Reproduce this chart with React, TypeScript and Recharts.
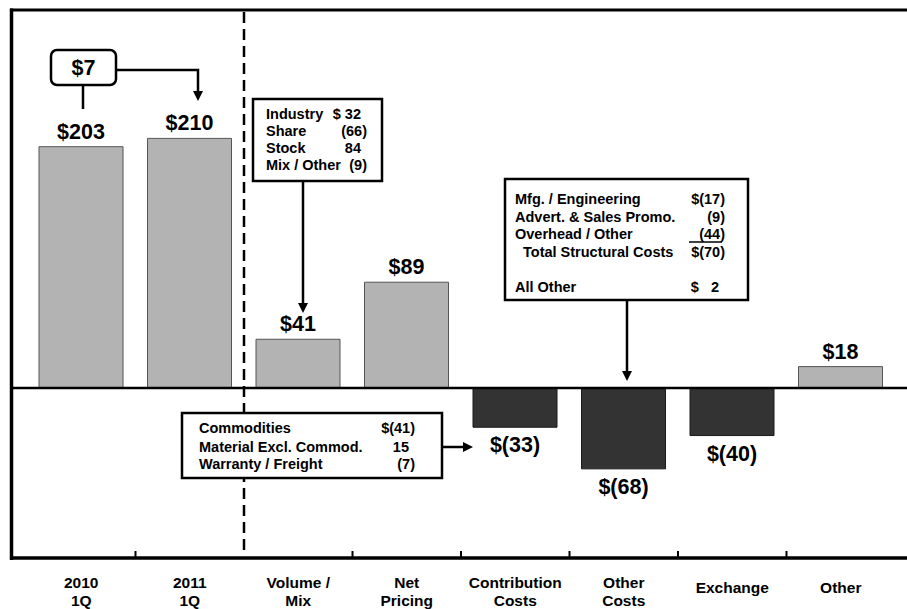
import { BarChart, Bar, XAxis, YAxis, Cell, LabelList } from 'recharts'

const categories = ['2010\n1Q', '2011\n1Q', 'Volume /\nMix', 'Net\nPricing', 'Contribution\nCosts', 'Other\nCosts', 'Exchange', 'Other']
const values = [203, 210, 41, 89, -33, -68, -40, 18]
const yDomain = [-143, 318]

const bridgeNote = '$7'
const volumeLines = [['Industry', '$ 32'], ['Share', '(66)'], ['Stock', '84'], ['Mix / Other', '(9)']]
const structuralLines = [['Mfg. / Engineering', '$(17)'], ['Advert. & Sales Promo.', '(9)'], ['Overhead / Other', '(44)'], ['Total Structural Costs', '$(70)'], ['All Other', '$   2']]
const contributionLines = [['Commodities', '$(41)'], ['Material Excl. Commod.', '15'], ['Warranty / Freight', '(7)']]

const W = 907
const H = 609
const PLOT = { left: 27, right: 895, top: 10, bottom: 558 }
const FONT = '"Liberation Sans", Arial, Helvetica, sans-serif'

const data = categories.map((name, i) => ({ name, value: values[i] }))

const fmt = (v: number) => (v < 0 ? `$(${-v})` : `$${v}`)

// eslint-disable-next-line @typescript-eslint/no-explicit-any
function CategoryTick({ x, y, payload }: any) {
  const lines = String(payload.value).split('\n')
  const first = lines.length > 1 ? 30 : 35
  return (
    <text x={x} y={y} textAnchor="middle" fontFamily={FONT} fontWeight={700} fontSize={15.5} fill="#000">
      {lines.map((l, i) => (
        <tspan key={i} x={x} y={y + first + i * 18}>{l}</tspan>
      ))}
    </text>
  )
}

// eslint-disable-next-line @typescript-eslint/no-explicit-any
function ValueLabel(props: any) {
  const { x, y, width, height, value } = props
  const top = Math.min(y, y + height)
  const bottom = Math.max(y, y + height)
  const ty = value < 0 ? bottom + 25 : top - 8
  return (
    <text x={x + width / 2} y={ty} textAnchor="middle" fontFamily={FONT} fontWeight={700} fontSize={21.5} fill="#000">
      {fmt(value)}
    </text>
  )
}

function ArrowDown({ x, y }: { x: number; y: number }) {
  return <polygon points={`${x - 5},${y - 10} ${x + 5},${y - 10} ${x},${y}`} fill="#000" />
}

function ArrowRight({ x, y }: { x: number; y: number }) {
  return <polygon points={`${x - 10},${y - 5} ${x - 10},${y + 5} ${x},${y}`} fill="#000" />
}

function NoteRows({ rows, x, valueX, y0, step, indent }: {
  rows: string[][]; x: number; valueX: number; y0: number; step: number[] | number; indent?: number
}) {
  return (
    <g fontFamily={FONT} fontWeight={700} fontSize={14.5} fill="#000">
      {rows.map(([label, val], i) => {
        const y = Array.isArray(step) ? step[i] : y0 + i * step
        const lx = indent !== undefined && label.startsWith('Total') ? x + indent : x
        return (
          <g key={i}>
            <text x={lx} y={y}>{label}</text>
            <text x={val.endsWith(')') ? valueX : valueX - 6} y={y} textAnchor="end">
              {val.replace(/ /g, '\u00A0')}
            </text>
          </g>
        )
      })}
    </g>
  )
}

function Annotations() {
  const band = (PLOT.right - PLOT.left) / categories.length
  const zeroY = PLOT.top + (yDomain[1] / (yDomain[1] - yDomain[0])) * (PLOT.bottom - PLOT.top)
  const dividerX = PLOT.left + band * 2
  const ticks = categories.slice(1).map((_, i) => PLOT.left + band * (i + 1)).filter((_, i) => i !== 1)

  return (
    <svg width={W} height={H} style={{ position: 'absolute', left: 0, top: 0 }}>
      {/* frame */}
      <line x1={10} y1={10} x2={W} y2={10} stroke="#000" strokeWidth={3} />
      <line x1={11.5} y1={8.5} x2={11.5} y2={PLOT.bottom + 2} stroke="#000" strokeWidth={3.5} />
      <line x1={10} y1={PLOT.bottom} x2={W} y2={PLOT.bottom} stroke="#000" strokeWidth={3.5} />
      <line x1={11} y1={zeroY} x2={W} y2={zeroY} stroke="#000" strokeWidth={2.5} />
      {ticks.map((t, i) => (
        <line key={i} x1={t} y1={PLOT.bottom - 7} x2={t} y2={PLOT.bottom} stroke="#000" strokeWidth={2} />
      ))}
      <line x1={dividerX} y1={12} x2={dividerX} y2={PLOT.bottom - 2} stroke="#000" strokeWidth={2.5} strokeDasharray="11 6" />

      {/* $7 bridge */}
      <rect x={51} y={50} width={65} height={35} rx={6} fill="#fff" stroke="#000" strokeWidth={2.5} />
      <text x={83.5} y={75} textAnchor="middle" fontFamily={FONT} fontWeight={700} fontSize={21.5}>{bridgeNote}</text>
      <line x1={83} y1={85} x2={83} y2={109} stroke="#000" strokeWidth={2.5} />
      <polyline points="116,70 198,70 198,92" fill="none" stroke="#000" strokeWidth={2.5} />
      <ArrowDown x={198} y={101} />

      {/* volume / mix note */}
      <rect x={253} y={99} width={129} height={82} fill="#fff" stroke="#000" strokeWidth={2.5} />
      <NoteRows rows={volumeLines} x={266} valueX={367} y0={119} step={17} />
      <line x1={303} y1={181} x2={303} y2={305} stroke="#000" strokeWidth={2.5} />
      <ArrowDown x={303} y={313} />

      {/* structural costs note */}
      <rect x={505} y={179} width={243} height={121} fill="#fff" stroke="#000" strokeWidth={2.5} />
      <NoteRows rows={structuralLines} x={515} valueX={725} y0={204} step={[204, 222, 239, 257, 292]} indent={8} />
      <line x1={689} y1={242} x2={722} y2={242} stroke="#000" strokeWidth={1.5} />
      <line x1={627} y1={300} x2={627} y2={373} stroke="#000" strokeWidth={2.5} />
      <ArrowDown x={627} y={381} />

      {/* contribution costs note */}
      <rect x={182} y={413} width={260} height={65} fill="#fff" stroke="#000" strokeWidth={2.5} />
      <NoteRows rows={contributionLines} x={199} valueX={415} y0={433} step={[433, 452, 469]} />
      <line x1={442} y1={447} x2={464} y2={447} stroke="#000" strokeWidth={2.5} />
      <ArrowRight x={473} y={447} />
    </svg>
  )
}

export default function App() {
  return (
    <div style={{ position: 'absolute', left: 0, top: 0, width: W, height: H, background: '#fff' }}>
      <BarChart
        width={W}
        height={H}
        data={data}
        margin={{ top: PLOT.top, right: W - PLOT.right, bottom: 0, left: PLOT.left }}
        barSize={84}
      >
        <XAxis
          dataKey="name"
          interval={0}
          height={H - PLOT.bottom}
          axisLine={false}
          tickLine={false}
          tickSize={0}
          tickMargin={0}
          tick={<CategoryTick />}
        />
        <YAxis hide type="number" domain={yDomain} allowDataOverflow />
        <Bar dataKey="value" isAnimationActive={false}>
          {data.map((d, i) => (
            <Cell
              key={i}
              fill={d.value < 0 ? '#333333' : '#b3b3b3'}
              stroke={d.value < 0 ? '#1a1a1a' : '#555555'}
              strokeWidth={1}
            />
          ))}
          <LabelList dataKey="value" content={<ValueLabel />} />
        </Bar>
      </BarChart>
      <Annotations />
    </div>
  )
}
